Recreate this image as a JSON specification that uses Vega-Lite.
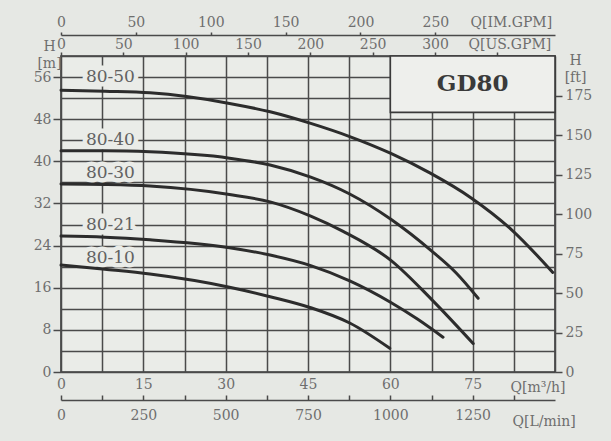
{
  "$schema": "https://vega.github.io/schema/vega-lite/v6.json",
  "width": 494,
  "height": 316,
  "autosize": {"type": "none"},
  "padding": {"left": 61, "top": 56, "right": 56, "bottom": 69},
  "background": "#e6e8e4",
  "config": {
    "view": {"stroke": "#3a3a3a", "strokeWidth": 1.6, "fill": "#eaece8"},
    "font": "DejaVu Serif",
    "axis": {
      "labelFont": "DejaVu Serif",
      "titleFont": "DejaVu Serif",
      "labelColor": "#6e6e6e",
      "titleColor": "#6e6e6e",
      "labelFontSize": 14,
      "titleFontSize": 14,
      "titleFontWeight": "normal",
      "domainColor": "#4a4a4a",
      "domainWidth": 1.5,
      "tickColor": "#4a4a4a",
      "tickWidth": 1.5,
      "gridColor": "#4a4a4a",
      "gridWidth": 1.5,
      "gridOpacity": 1
    }
  },
  "datasets": {
    "curves": [
      {"model": "80-50", "Q": 0, "H": 53.5},
      {"model": "80-50", "Q": 8, "H": 53.3},
      {"model": "80-50", "Q": 16.2, "H": 53.0},
      {"model": "80-50", "Q": 30.7, "H": 51.0},
      {"model": "80-50", "Q": 38.1, "H": 49.4},
      {"model": "80-50", "Q": 45.5, "H": 47.2},
      {"model": "80-50", "Q": 52.6, "H": 44.7},
      {"model": "80-50", "Q": 60.1, "H": 41.5},
      {"model": "80-50", "Q": 67.2, "H": 37.8},
      {"model": "80-50", "Q": 74.8, "H": 33.0},
      {"model": "80-50", "Q": 82.1, "H": 27.0},
      {"model": "80-50", "Q": 89.6, "H": 18.9},
      {"model": "80-40", "Q": 0, "H": 42.0},
      {"model": "80-40", "Q": 8, "H": 42.0},
      {"model": "80-40", "Q": 16.2, "H": 41.8},
      {"model": "80-40", "Q": 30.7, "H": 40.6},
      {"model": "80-40", "Q": 38.1, "H": 39.3},
      {"model": "80-40", "Q": 45.5, "H": 37.0},
      {"model": "80-40", "Q": 52.6, "H": 33.8},
      {"model": "80-40", "Q": 60.1, "H": 29.0},
      {"model": "80-40", "Q": 67.5, "H": 23.0},
      {"model": "80-40", "Q": 72.0, "H": 18.8},
      {"model": "80-40", "Q": 76.0, "H": 14.0},
      {"model": "80-30", "Q": 0, "H": 35.7},
      {"model": "80-30", "Q": 8, "H": 35.6},
      {"model": "80-30", "Q": 16.2, "H": 35.3},
      {"model": "80-30", "Q": 30.7, "H": 33.7},
      {"model": "80-30", "Q": 38.1, "H": 32.3},
      {"model": "80-30", "Q": 45.5, "H": 29.6},
      {"model": "80-30", "Q": 51.4, "H": 26.7},
      {"model": "80-30", "Q": 60.1, "H": 21.2},
      {"model": "80-30", "Q": 67.5, "H": 13.8},
      {"model": "80-30", "Q": 75.1, "H": 5.4},
      {"model": "80-21", "Q": 0, "H": 25.8},
      {"model": "80-21", "Q": 8, "H": 25.6},
      {"model": "80-21", "Q": 16.2, "H": 25.1},
      {"model": "80-21", "Q": 30.7, "H": 23.6},
      {"model": "80-21", "Q": 38.1, "H": 22.2},
      {"model": "80-21", "Q": 45.5, "H": 20.2},
      {"model": "80-21", "Q": 52.6, "H": 17.3},
      {"model": "80-21", "Q": 60.1, "H": 13.2},
      {"model": "80-21", "Q": 65.0, "H": 10.0},
      {"model": "80-21", "Q": 69.6, "H": 6.6},
      {"model": "80-10", "Q": 0, "H": 20.3},
      {"model": "80-10", "Q": 8, "H": 19.5},
      {"model": "80-10", "Q": 16.2, "H": 18.6},
      {"model": "80-10", "Q": 30.7, "H": 16.1},
      {"model": "80-10", "Q": 38.1, "H": 14.3},
      {"model": "80-10", "Q": 45.5, "H": 12.2},
      {"model": "80-10", "Q": 52.6, "H": 9.3},
      {"model": "80-10", "Q": 59.9, "H": 4.5}
    ],
    "labels": [
      {"model": "80-50", "Q": 9.0, "H": 56.0},
      {"model": "80-40", "Q": 9.0, "H": 44.0},
      {"model": "80-30", "Q": 9.0, "H": 37.8},
      {"model": "80-21", "Q": 9.0, "H": 28.0},
      {"model": "80-10", "Q": 9.0, "H": 21.6}
    ],
    "box": [
      {"name": "GD80", "Q1": 60, "Q2": 90, "H1": 49.3, "H2": 60, "Qc": 75, "Hc": 54.6}
    ],
    "axes": [
      {"ft": 0, "usgpm": 0, "imgpm": 0, "lmin": 0},
      {"ft": 200, "usgpm": 396.26, "imgpm": 329.9, "lmin": 1500}
    ]
  },
  "layer": [
    {
      "data": {"name": "box"},
      "mark": {"type": "rect", "fill": "#eeefec", "stroke": "#3a3a3a", "strokeWidth": 1.6},
      "encoding": {
        "x": {
          "field": "Q1", "type": "quantitative",
          "scale": {"domain": [0, 90], "nice": false, "zero": false},
          "axis": {
            "orient": "bottom",
            "values": [0, 7.5, 15, 22.5, 30, 37.5, 45, 52.5, 60, 67.5, 75, 82.5, 90],
            "grid": true,
            "ticks": false,
            "domain": false,
            "labelExpr": "datum.value % 15 === 0 && datum.value < 90 ? format(datum.value, 'd') : ''",
            "labelPadding": 5,
            "labelFlush": false,
            "title": "Q[m³/h]",
            "titleX": 449,
            "titleY": 19,
            "titleAlign": "left",
            "titleBaseline": "alphabetic"
          }
        },
        "x2": {"field": "Q2"},
        "y": {
          "field": "H1", "type": "quantitative",
          "scale": {"domain": [0, 60], "nice": false, "zero": false},
          "axis": {
            "orient": "left",
            "values": [0, 4, 8, 12, 16, 20, 24, 28, 32, 36, 40, 44, 48, 52, 56, 60],
            "grid": true,
            "domain": false,
            "tickSize": 8,
            "tickOpacity": {"condition": {"test": "datum.value % 8 === 0 && datum.value < 60", "value": 1}, "value": 0},
            "labelExpr": "datum.value % 8 === 0 && datum.value < 60 ? format(datum.value, 'd') : ''",
            "labelPadding": 2,
            "labelFlush": false,
            "title": ["H", "[m]"],
            "titleAngle": 0,
            "titleX": -12,
            "titleY": -6,
            "titleAlign": "center",
            "titleBaseline": "alphabetic",
            "titleLineHeight": 17
          }
        },
        "y2": {"field": "H2"}
      }
    },
    {
      "data": {"name": "labels"},
      "mark": {"type": "text", "font": "DejaVu Serif", "fontSize": 17, "fill": "#eaece8", "stroke": "#eaece8", "strokeWidth": 9, "strokeJoin": "round"},
      "encoding": {
        "x": {"field": "Q", "type": "quantitative", "scale": {"domain": [0, 90], "nice": false, "zero": false}, "axis": null},
        "y": {"field": "H", "type": "quantitative", "scale": {"domain": [0, 60], "nice": false, "zero": false}, "axis": null},
        "text": {"field": "model"}
      }
    },
    {
      "data": {"name": "curves"},
      "mark": {"type": "line", "interpolate": "monotone", "color": "#2c2c2c", "strokeWidth": 3, "strokeCap": "round"},
      "encoding": {
        "x": {"field": "Q", "type": "quantitative", "scale": {"domain": [0, 90], "nice": false, "zero": false}, "axis": null},
        "y": {"field": "H", "type": "quantitative", "scale": {"domain": [0, 60], "nice": false, "zero": false}, "axis": null},
        "detail": {"field": "model"}
      }
    },
    {
      "data": {"name": "labels"},
      "mark": {"type": "text", "font": "DejaVu Serif", "fontSize": 17, "fill": "#626262"},
      "encoding": {
        "x": {"field": "Q", "type": "quantitative", "scale": {"domain": [0, 90], "nice": false, "zero": false}, "axis": null},
        "y": {"field": "H", "type": "quantitative", "scale": {"domain": [0, 60], "nice": false, "zero": false}, "axis": null},
        "text": {"field": "model"}
      }
    },
    {
      "data": {"name": "box"},
      "mark": {"type": "text", "font": "DejaVu Serif", "fontSize": 23, "fontWeight": "bold", "fill": "#3a3a3a"},
      "encoding": {
        "x": {"field": "Qc", "type": "quantitative", "scale": {"domain": [0, 90], "nice": false, "zero": false}, "axis": null},
        "y": {"field": "Hc", "type": "quantitative", "scale": {"domain": [0, 60], "nice": false, "zero": false}, "axis": null},
        "text": {"field": "name"}
      }
    },
    {
      "data": {"name": "axes"},
      "mark": {"type": "point", "opacity": 0},
      "encoding": {
        "y": {
          "field": "ft", "type": "quantitative",
          "scale": {"domain": [0, 200], "nice": false, "zero": false},
          "axis": {
            "orient": "right",
            "values": [0, 25, 50, 75, 100, 125, 150, 175],
            "grid": false,
            "domain": false,
            "tickSize": 7,
            "labelPadding": 3,
            "labelFlush": false,
            "title": ["H", "[ft]"],
            "titleAngle": 0,
            "titleX": 20,
            "titleY": 8,
            "titleAlign": "center",
            "titleBaseline": "alphabetic",
            "titleLineHeight": 17
          }
        }
      }
    },
    {
      "data": {"name": "axes"},
      "mark": {"type": "point", "opacity": 0},
      "encoding": {
        "x": {
          "field": "usgpm", "type": "quantitative",
          "scale": {"domain": [0, 396.26], "nice": false, "zero": false},
          "axis": {
            "orient": "top",
            "values": [0, 50, 100, 150, 200, 250, 300, 350],
            "grid": false,
            "domain": false,
            "tickSize": 4,
            "labelPadding": 1,
            "labelFlush": false,
            "labelExpr": "datum.value <= 300 ? datum.label : ''",
            "title": "Q[US.GPM]",
            "titleX": 407,
            "titleY": -5,
            "titleAlign": "left",
            "titleBaseline": "bottom"
          }
        }
      }
    },
    {
      "data": {"name": "axes"},
      "mark": {"type": "point", "opacity": 0},
      "encoding": {
        "x": {
          "field": "imgpm", "type": "quantitative",
          "scale": {"domain": [0, 329.9], "nice": false, "zero": false},
          "axis": {
            "orient": "top",
            "offset": 21,
            "values": [0, 50, 100, 150, 200, 250],
            "grid": false,
            "domain": true,
            "tickSize": 3,
            "labelPadding": 3,
            "labelFlush": false,
            "title": "Q[IM.GPM]",
            "titleX": 409,
            "titleY": -6,
            "titleAlign": "left",
            "titleBaseline": "bottom"
          }
        }
      }
    },
    {
      "data": {"name": "axes"},
      "mark": {"type": "point", "opacity": 0},
      "encoding": {
        "x": {
          "field": "lmin", "type": "quantitative",
          "scale": {"domain": [0, 1500], "nice": false, "zero": false},
          "axis": {
            "orient": "bottom",
            "offset": 28,
            "values": [0, 125, 250, 375, 500, 625, 750, 875, 1000, 1125, 1250, 1375],
            "grid": false,
            "domain": true,
            "tickSize": -5,
            "labelPadding": 13,
            "labelFlush": false,
            "labelExpr": "datum.value % 250 === 0 && datum.value <= 1250 ? format(datum.value, 'd') : ''",
            "title": "Q[L/min]",
            "titleX": 451,
            "titleY": 25,
            "titleAlign": "left",
            "titleBaseline": "alphabetic"
          }
        }
      }
    }
  ],
  "resolve": {"scale": {"x": "independent", "y": "independent"}}
}
